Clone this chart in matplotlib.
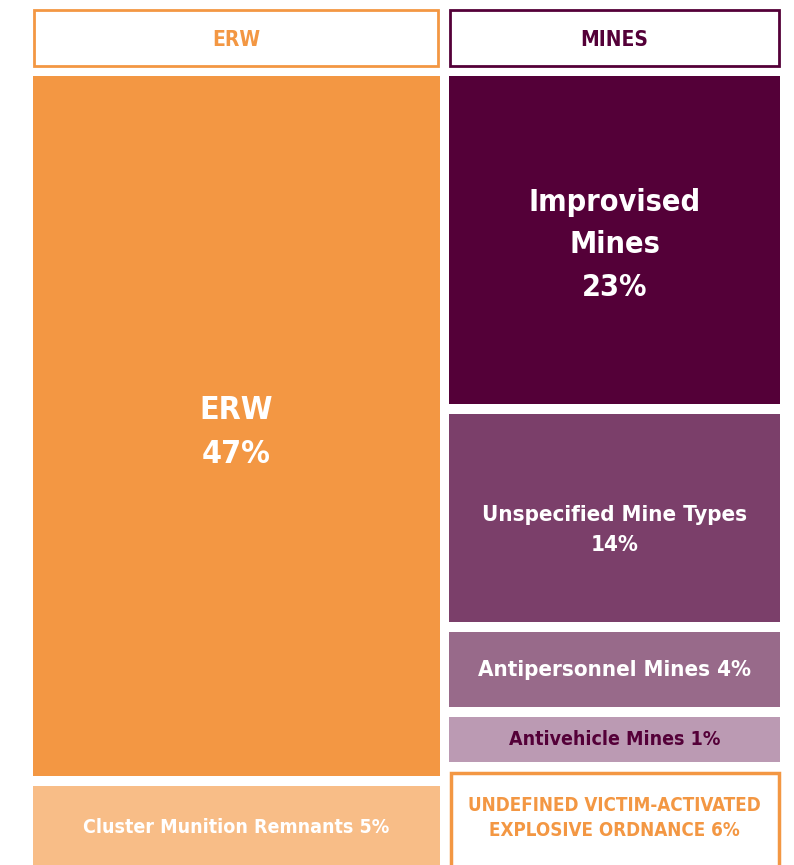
import matplotlib
matplotlib.use("Agg")
import matplotlib.pyplot as plt
from matplotlib.patches import Rectangle

plt.rcParams['font.family'] = ['DejaVu Sans']
plt.rcParams['font.stretch'] = 'condensed'

# data
erw_labels = ["ERW", "Cluster Munition Remnants"]
erw_values = [47, 5]
mine_labels = ["Improvised\nMines", "Unspecified Mine Types", "Antipersonnel Mines",
               "Antivehicle Mines", "UNDEFINED VICTIM-ACTIVATED\nEXPLOSIVE ORDNANCE"]
mine_values = [23, 14, 4, 1, 6]

# styles
erw_fill = ["#F39743", "#F8BD87"]
erw_text = ["white", "white"]
erw_size = [23, 14]
erw_sep = ["\n", " "]
erw_ls = [1.55, 1.2]
erw_dy = [6, 2]
mine_fill = ["#540038", "#7B3F6A", "#986A8A", "#BB9AB3", "white"]
mine_edge = [None, None, None, None, "#F39743"]
mine_text = ["white", "white", "white", "#540038", "#F39743"]
mine_size = [22, 16, 16, 14, 13.5]
mine_sep = ["\n", "\n", " ", " ", " "]
mine_ls = [1.6, 1.65, 1.2, 1.2, 1.4]
mine_dy = [5, 12, 0, 0, 0]

gap = 10
top = 76
bottom = 865

fig = plt.figure(figsize=(7.94, 8.65), dpi=100)
ax = fig.add_axes([0, 0, 1, 1])
ax.set_xlim(0, 794)
ax.set_ylim(bottom, 0)
ax.axis("off")


def column(x0, x1, labels, values, fills, edges, tcols, sizes, seps, lss, dys,
           scale, pad, min_v):
    y = top
    n = len(values)
    for i, (lab, v) in enumerate(zip(labels, values)):
        h = scale * max(v, min_v) + pad
        if i == n - 1:
            h = bottom - y
        if edges[i]:
            ax.add_patch(Rectangle((x0 + 2, y + 1.5), x1 - x0 - 3.5, h + 20, facecolor=fills[i],
                                   edgecolor=edges[i], linewidth=2.5))
        else:
            ax.add_patch(Rectangle((x0, y), x1 - x0, h, facecolor=fills[i], edgecolor='none'))
        ax.text((x0 + x1) / 2, y + h / 2 + dys[i], f"{lab}{seps[i]}{v}%", color=tcols[i],
                fontsize=sizes[i], fontweight='bold', ha='center', va='center',
                linespacing=lss[i])
        y += h + gap


# headers
for x0, x1, name, col in [(33, 439, "ERW", "#F39743"), (449, 780, "MINES", "#540038")]:
    ax.add_patch(Rectangle((x0 + 1, 10), x1 - x0 - 2, 56, facecolor='white',
                           edgecolor=col, linewidth=2))
    ax.text((x0 + x1) / 2, 40, name, color=col, fontsize=15, fontweight='bold',
            ha='center', va='center')

column(33, 440, erw_labels, erw_values, erw_fill, [None, None], erw_text, erw_size,
       erw_sep, erw_ls, erw_dy, 14.9, 0, 0)
column(449, 780, mine_labels, mine_values, mine_fill, mine_edge, mine_text, mine_size,
       mine_sep, mine_ls, mine_dy, 13.3, 22, 1.7)

fig.savefig("out.png", dpi=100)
